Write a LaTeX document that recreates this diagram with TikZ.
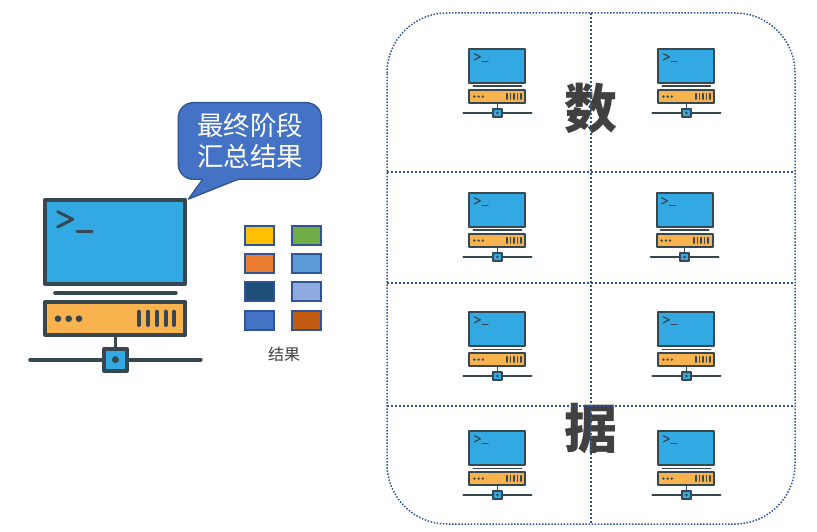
\documentclass[tikz,border=0pt]{standalone}
\usepackage{fontspec}
\newfontfamily\cjk{Noto Sans CJK SC}
\definecolor{frame}{HTML}{37474F}
\definecolor{screen}{HTML}{33A9E3}
\definecolor{serverfill}{HTML}{F8B24E}
\definecolor{dotblue}{HTML}{2F5597}
\definecolor{calloutfill}{HTML}{4472C4}
\definecolor{bigtext}{HTML}{404040}
\definecolor{swa}{HTML}{FFC000}
\definecolor{swb}{HTML}{70AD47}
\definecolor{swc}{HTML}{ED7D31}
\definecolor{swd}{HTML}{5B9BD5}
\definecolor{swe}{HTML}{1F4E79}
\definecolor{swf}{HTML}{8FAADC}
\definecolor{swg}{HTML}{4472C4}
\definecolor{swh}{HTML}{C55A11}
\tikzset{
  swatch/.style={draw=dotblue,line width=2pt,minimum width=29pt,minimum height=19pt,inner sep=0pt,fill=#1},
  gridline/.style={draw=dotblue,line width=1.8pt,dash pattern=on 1.8pt off 2.2pt},
  outline/.style={draw=dotblue,line width=1.5pt,dash pattern=on 1.5pt off 1.6pt},
  bigchar/.style={font=\cjk\bfseries\fontsize{53pt}{53pt}\selectfont,text=bigtext,inner sep=0pt},
  bubbletext/.style={font=\cjk\fontsize{26.5pt}{31pt}\selectfont,text=white,inner sep=0pt}
}
% #1,#2 position, #3 scale, #4 extra stroke width
\newcommand{\drawcomputer}[4]{%
\begin{scope}[shift={(#1,#2)},scale=#3,line join=round,line cap=round]
  \filldraw[fill=screen,draw=frame,line width=#3*4pt+#4] (-70,2) rectangle (70,85.7);
  \draw[frame,line width=#3*4pt] (-60,95) -- (60.5,95);
  \filldraw[fill=serverfill,draw=frame,line width=#3*4pt+#4] (-70,104) rectangle (70,136.7);
  \fill[frame] (-57.2,120.7) circle (3.3) (-46.5,120.7) circle (3.3) (-36.2,120.7) circle (3.3);
  \foreach \bx in {23.8,32.8,41.8,50.3,58.8}
    \draw[frame,line width=#3*4pt] (\bx,113.7) -- (\bx,127);
  \draw[frame,line width=#3*3pt] (-57.5,13.7) -- (-42.5,21.3) -- (-57.5,29);
  \draw[frame,line width=#3*3pt] (-38,33) -- (-23,33);
  \draw[frame,line width=#3*3pt+#4] (0,138) -- (0,149);
  \draw[frame,line width=#3*4pt+#4] (-85,161.7) -- (85.5,161.7);
  \filldraw[fill=screen,draw=frame,line width=#3*4pt+#4] (-11,150.7) rectangle (11.5,172.7);
  \fill[frame] (0.2,161.7) circle (3.5);
\end{scope}}
\begin{document}
\begin{tikzpicture}[x=1pt,y=-1pt]
\useasboundingbox (0,0) rectangle (817,532);
\fill[white] (0,0) rectangle (817,532);
\draw[fill=calloutfill,draw=dotblue,line width=1.4pt,line join=round]
  (193.3,102.7) -- (306.3,102.7) arc[start angle=90,end angle=0,x radius=15,y radius=-15]
  -- (321.3,164.3) arc[start angle=0,end angle=-90,x radius=15,y radius=-15]
  -- (238,179.3) -- (188.5,199) -- (202.7,179.3) -- (193.3,179.3)
  arc[start angle=-90,end angle=-180,x radius=15,y radius=-15]
  -- (178.3,117.7) arc[start angle=180,end angle=90,x radius=15,y radius=-15] -- cycle;
\node[bubbletext] (bubbleA) at (250,125) {最终阶段};
\node[bubbletext] (bubbleB) at (250,156) {汇总结果};
\drawcomputer{115.2}{198}{1}{0pt}
\node[swatch=swa] (s1) at (259.5,235.5) {};
\node[swatch=swb] (s2) at (306.5,235.5) {};
\node[swatch=swc] (s3) at (259.5,263.5) {};
\node[swatch=swd] (s4) at (306.5,263.5) {};
\node[swatch=swe] (s5) at (259.5,291.5) {};
\node[swatch=swf] (s6) at (306.5,291.5) {};
\node[swatch=swg] (s7) at (259.5,320.5) {};
\node[swatch=swh] (s8) at (306.5,320.5) {};
\node[font=\cjk\fontsize{16pt}{16pt}\selectfont,text=bigtext,inner sep=0pt] (res) at (284,354) {结果};
\node[bigchar] (shu) at (591,108) {数};
\node[bigchar] (ju) at (591,428) {据};
\draw[outline] (387,73) arc[start angle=180,end angle=90,x radius=60,y radius=-60]
  -- (735,13) arc[start angle=90,end angle=0,x radius=60,y radius=-60]
  -- (795,464) arc[start angle=0,end angle=-90,x radius=60,y radius=-60]
  -- (447,524) arc[start angle=-90,end angle=-180,x radius=60,y radius=-60] -- cycle;
\path[gridline] (591,13) -- (591,524);
\path[gridline] (387,172) -- (795,172);
\path[gridline] (387,283) -- (795,283);
\path[gridline] (387,406) -- (795,406);
\drawcomputer{497.3}{48.3}{0.4}{0.4pt}
\drawcomputer{686.3}{48.3}{0.4}{0.4pt}
\drawcomputer{497.3}{192.3}{0.4}{0.4pt}
\drawcomputer{684.5}{192.3}{0.4}{0.4pt}
\drawcomputer{497.3}{311.3}{0.4}{0.4pt}
\drawcomputer{686.3}{311.3}{0.4}{0.4pt}
\drawcomputer{497.3}{430.3}{0.4}{0.4pt}
\drawcomputer{686.3}{430.3}{0.4}{0.4pt}
\end{tikzpicture}
\end{document}
